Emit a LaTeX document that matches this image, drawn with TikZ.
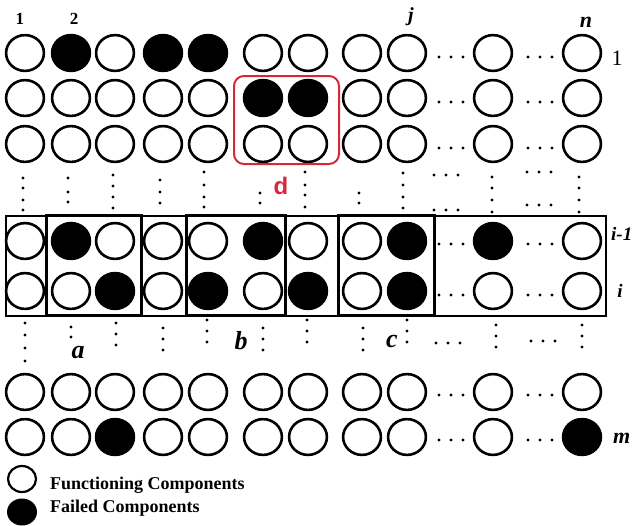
\documentclass[tikz,border=0pt]{standalone}
\usepackage{fontspec}
\setmainfont{Liberation Serif}
\setsansfont{Liberation Sans}
\usetikzlibrary{shapes.geometric}
\definecolor{dred}{RGB}{214,40,57}
\colorlet{W}{white}
\colorlet{B}{black}
\def\colx{{25,71,115,163,208,263,308,362,407,493,582}}
\newcommand\comprow[3]{%
  \foreach \f [count=\c] in {#3} {%
    \pgfmathsetmacro\cx{\colx[\c-1]}%
    \node[comp, fill=\f] (#1c\c) at (\cx,#2) {};
  }}
\newcommand\mydotsv[2]{\foreach \yy in {#2} \fill (#1,\yy) circle (1.6pt);}
\newcommand\mydotsh[2]{\foreach \dx in {0,12,24} \fill (#1+\dx,#2) circle (1.6pt);}
\tikzset{
  comp/.style={ellipse, draw=black, line width=2.6pt, minimum width=37.8pt, minimum height=35.8pt, inner sep=0pt},
  boxline/.style={rectangle, draw=black, line width=3pt, inner sep=0pt},
  bandline/.style={rectangle, draw=black, line width=2.2pt, inner sep=0pt},
  redbox/.style={rectangle, draw=dred, line width=2pt, rounded corners=10pt, inner sep=0pt},
  bi/.style={font=\bfseries\itshape\fontsize{#1}{#1}\selectfont, inner sep=0pt},
  bu/.style={font=\bfseries\fontsize{#1}{#1}\selectfont, inner sep=0pt},
}
\begin{document}
\begin{tikzpicture}[x=1pt,y=-1pt]
\useasboundingbox (0,0) rectangle (634,525);
% component rows
\comprow{ra}{53}{W,B,W,B,B,W,W,W,W,W,W}
\comprow{rb}{98}{W,W,W,W,W,B,B,W,W,W,W}
\comprow{rc}{144}{W,W,W,W,W,W,W,W,W,W,W}
\comprow{rp}{241}{W,B,W,W,W,B,W,W,B,B,W}
\comprow{rq}{291}{W,W,B,W,B,W,B,W,B,W,W}
\comprow{rx}{392}{W,W,W,W,W,W,W,W,W,W,W}
\comprow{ry}{437}{W,W,B,W,W,W,W,W,W,W,B}
% row dots
\foreach \yy in {57,102,148,244,295,395,440} {\mydotsh{439}{\yy}\mydotsh{528}{\yy}}
% vertical dots above band
\mydotsv{23}{178,188,200,210}
\mydotsv{68}{178,192,202}
\mydotsv{113}{175,186,197,208}
\mydotsv{160}{180,192,203}
\mydotsv{204}{172,185,197,207}
\mydotsv{260}{193,203}
\mydotsv{305}{172,185,195,207}
\mydotsv{359}{193,203}
\mydotsv{403}{173,185,197,208}
\mydotsv{492}{177,188,200,212}
\mydotsv{579}{177,188,200,212}
\mydotsh{434}{175}\mydotsh{434}{210}
\mydotsh{527}{172}\mydotsh{527}{205}
% vertical dots below band
\mydotsv{25}{323,335,348,361}
\mydotsv{71}{327,337}
\mydotsv{116}{323,334,345}
\mydotsv{163}{328,339,350}
\mydotsv{207}{320,331,342}
\mydotsv{263}{328,339,350}
\mydotsv{307}{320,331,342}
\mydotsv{363}{328,339,350}
\mydotsv{407}{320,331,342}
\mydotsv{496}{325,336,347}
\mydotsv{582}{325,336,347}
\mydotsh{436}{343}\mydotsh{531}{341}
% boxes
\node[bandline, minimum width=600pt, minimum height=100pt] (band) at (306,266) {};
\node[boxline, minimum width=95pt, minimum height=100pt] (boxa) at (94,265.5) {};
\node[boxline, minimum width=99pt, minimum height=100pt] (boxb) at (236,265.5) {};
\node[boxline, minimum width=96pt, minimum height=100pt] (boxc) at (386.5,265.5) {};
\node[redbox, minimum width=105pt, minimum height=88pt] (boxd) at (286.5,120) {};
% labels
\node[bu=17, anchor=base] (lab1) at (20,24) {1};
\node[bu=17, anchor=base] (lab2) at (74,24) {2};
\node[bi=20, anchor=base] (labj) at (411,21) {j};
\node[bi=22, anchor=base] (labn) at (586,27) {n};
\node[font=\fontsize{22}{22}\selectfont, inner sep=0pt, anchor=base] (labr) at (617,65) {1};
\node[bi=19, anchor=base west] (labim) at (611,240) {i-1};
\node[bi=19, anchor=base] (labi) at (620,297) {i};
\node[bi=22, anchor=base west] (labm) at (613,443) {m};
\node[bi=26, anchor=base] (laba) at (78,358) {a};
\node[bi=26, anchor=base] (labb) at (241,349) {b};
\node[bi=26, anchor=base] (labc) at (392,347) {c};
\node[font=\sffamily\bfseries\fontsize{24}{24}\selectfont, text=dred, inner sep=0pt, anchor=base] (labd) at (281,194) {d};
% legend
\node[ellipse, draw=black, line width=2.2pt, fill=white, minimum width=28pt, minimum height=26pt, inner sep=0pt] (leg1) at (22,479) {};
\node[ellipse, fill=black, minimum width=30pt, minimum height=27pt, inner sep=0pt] (leg2) at (22,512) {};
\node[bu=18, anchor=west] (legt1) at (50,485) {Functioning Components};
\node[bu=18, anchor=west] (legt2) at (50,508) {Failed Components};
\end{tikzpicture}
\end{document}
